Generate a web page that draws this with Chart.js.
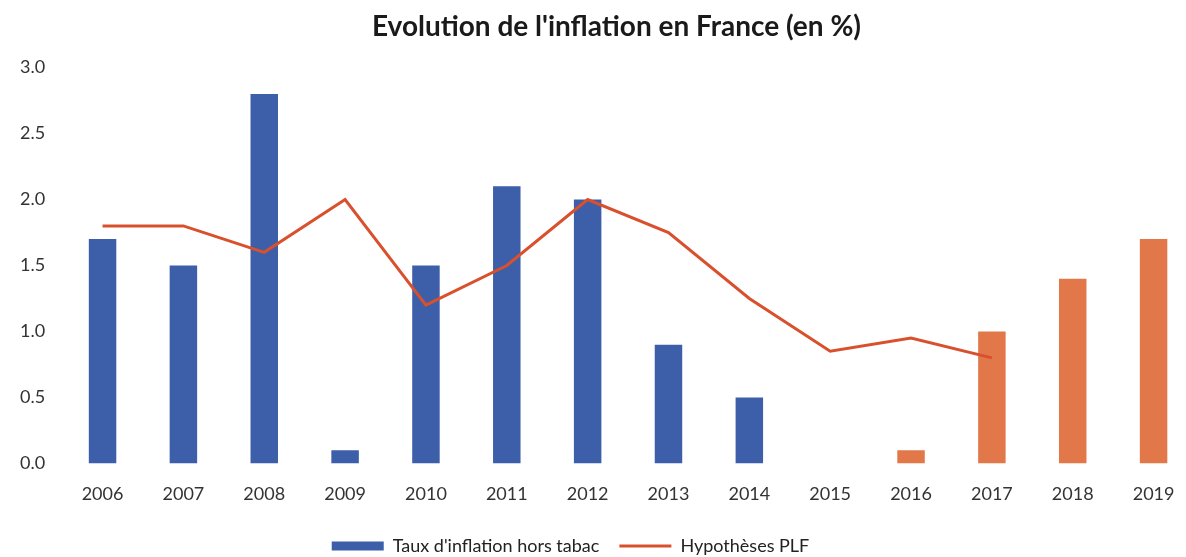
<!DOCTYPE html>
<html lang="fr">
<head>
<meta charset="utf-8">
<title>Evolution de l'inflation en France</title>
<script src="https://cdn.jsdelivr.net/npm/chart.js@4.4.1/dist/chart.umd.min.js"></script>
<style>
    html, body { margin: 0; padding: 0; background: #ffffff; overflow: hidden; }
    #wrap { position: absolute; left: 0; top: 0; width: 1194px; height: 565px; }
</style>
</head>
<body>
<div id="wrap"><canvas id="chart-inflation"></canvas></div>
<script>
// ── Données ─────────────────────────────────────────────────
const YEARS = ['2006', '2007', '2008', '2009', '2010', '2011', '2012',
               '2013', '2014', '2015', '2016', '2017', '2018', '2019'];
const INFLATION = [1.7, 1.5, 2.8, 0.1, 1.5, 2.1, 2.0, 0.9, 0.5, 0, 0.1, 1.0, 1.4, 1.7];
const PLF = [1.8, 1.8, 1.6, 2.0, 1.2, 1.5, 2.0, 1.75, 1.25, 0.85, 0.95, 0.8, null, null];
const Y_TICKS = [0, 0.5, 1, 1.5, 2, 2.5, 3];
const FIRST_FORECAST = '2016';

// ── Couleurs ───────────────────────────────────────────────
const BLUE = '#3d5ea8';
const ORANGE = '#e2784a';
const RED = '#d9502c';

Chart.defaults.font.family = "Lato, 'Open Sans', sans-serif";
Chart.defaults.color = '#333333';
Chart.defaults.animation = false;

const barColors = YEARS.map(y => (y >= FIRST_FORECAST ? ORANGE : BLUE));

// titre un peu à droite, légende un peu à gauche, comme dans l'original
const nudgeBlocks = {
    id: 'nudgeBlocks',
    afterLayout(chart) {
        if (chart.titleBlock) chart.titleBlock.left += 28;
        if (chart.legend) chart.legend.left -= 64;
    },
};

new Chart(document.getElementById('chart-inflation'), {
    type: 'bar',
    data: {
        labels: YEARS,
        datasets: [{
            label: "Taux d'inflation hors tabac",
            data: INFLATION,
            backgroundColor: barColors,
            borderWidth: 0,
            barPercentage: 0.34,
            categoryPercentage: 1,
            pointStyle: 'rect',
            order: 1,
        }, {
            type: 'line',
            label: 'Hypothèses PLF',
            data: PLF,
            borderColor: RED,
            backgroundColor: RED,
            borderWidth: 3,
            pointRadius: 0,
            tension: 0,
            fill: false,
            pointStyle: 'line',
            order: 0,
        }],
    },
    options: {
        responsive: true,
        maintainAspectRatio: false,
        layout: { padding: { left: 11, right: 0, top: 0, bottom: 0 } },
        scales: {
            x: {
                grid: { display: false },
                border: { display: false },
                ticks: { font: { size: 18 }, color: '#333', padding: 12 },
            },
            y: {
                min: 0,
                max: 3,
                afterBuildTicks: axis => { axis.ticks = Y_TICKS.map(v => ({ value: v })); },
                grid: { display: false },
                border: { display: false },
                ticks: {
                    font: { size: 18 },
                    color: '#333',
                    padding: 9,
                    callback: v => v.toFixed(1),
                },
            },
        },
        plugins: {
            title: {
                display: true,
                text: "Evolution de l'inflation en France (en %)",
                font: { size: 28, weight: 'bold' },
                color: '#1a1a1a',
                padding: { top: 10, bottom: 24 },
            },
            legend: {
                position: 'bottom',
                labels: {
                    usePointStyle: true,
                    pointStyleWidth: 52,
                    boxHeight: 9,
                    padding: 20,
                    font: { size: 18 },
                    color: '#222',
                    sort: (a, b) => a.datasetIndex - b.datasetIndex,
                },
            },
            tooltip: { enabled: false },
        },
    },
    plugins: [nudgeBlocks],
});
</script>
</body>
</html>
